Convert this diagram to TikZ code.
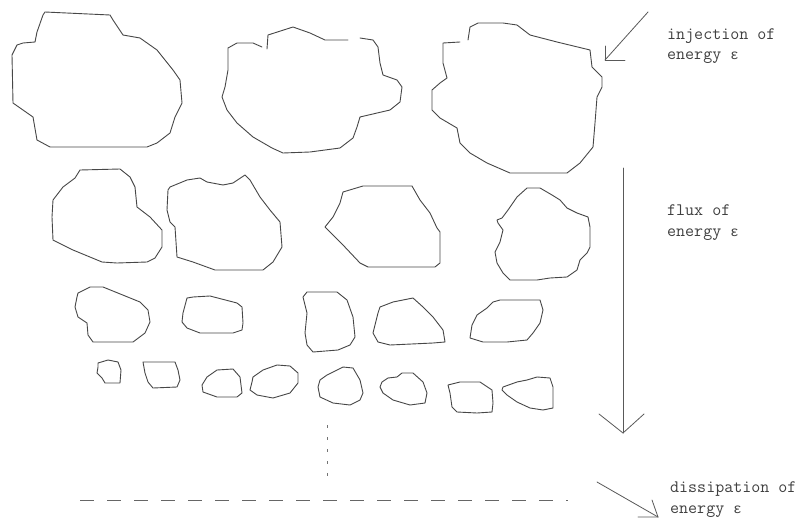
\documentclass[tikz,border=0pt]{standalone}
\usepackage{fontspec}
\newfontfamily\epsfont{Liberation Mono}
\begin{document}
\begin{tikzpicture}[x=1pt,y=-1pt,
  blob/.style={draw=black!72,line width=0.9pt,line join=round,line cap=round},
  arrowline/.style={draw=black!65,line width=0.8pt,line cap=round},
  lbl/.style={anchor=base west,inner sep=0pt,font=\ttfamily\fontsize{17.5}{17.5}\selectfont,text=black!75}]
\fill[white] (0,0) rectangle (805,530);
\useasboundingbox (0,0) rectangle (805,530);

% ---- row 1 ----
\draw[blob] (45,12) -- (110,15) -- (113,20) -- (123,35) -- (140,38) -- (157,50) -- (173,70) -- (180,80) -- (182,103) -- (175,117) -- (170,133) -- (157,143) -- (147,147) -- (50,147) -- (37,140) -- (33,117) -- (23,110) -- (13,103) -- (12,55) -- (17,45) -- (23,43) -- (35,42) -- (37,32) -- (43,15) -- cycle;

\draw[blob] (267,49) -- (268,35) -- (293,27) -- (310,33) -- (325,40) -- (348,40);
\draw[blob] (360,38) -- (373,40) -- (378,47) -- (380,63) -- (383,75) -- (397,80) -- (402,87) -- (400,102) -- (390,110) -- (360,117) -- (357,127) -- (353,138) -- (340,148) -- (310,152) -- (283,153) -- (272,148) -- (253,137) -- (237,123) -- (227,110) -- (222,97) -- (225,87) -- (228,70) -- (228,48) -- (237,43) -- (253,43) -- (262,47);

\draw[blob] (468,40) -- (470,27) -- (478,23) -- (503,23) -- (517,25) -- (530,35) -- (557,42) -- (590,50) -- (592,67) -- (602,77) -- (602,87) -- (597,97) -- (595,123) -- (593,147) -- (580,163) -- (567,173) -- (510,173) -- (487,163) -- (470,153) -- (460,143) -- (457,128) -- (440,118) -- (432,110) -- (432,90) -- (440,83) -- (447,78) -- (443,63) -- (443,43) -- (460,42);

% ---- row 2 ----
\draw[blob] (80,170) -- (120,169) -- (130,177) -- (135,187) -- (137,207) -- (150,217) -- (162,230) -- (162,247) -- (155,258) -- (147,262) -- (117,263) -- (102,262) -- (73,250) -- (53,240) -- (52,217) -- (53,200) -- (63,187) -- (75,178) -- cycle;

\draw[blob] (170,187) -- (187,180) -- (200,178) -- (207,182) -- (223,185) -- (233,183) -- (245,175) -- (250,180) -- (260,197) -- (270,210) -- (280,222) -- (282,247) -- (273,262) -- (263,270) -- (215,270) -- (193,262) -- (177,257) -- (175,227) -- (170,222) -- (167,210) -- (168,190) -- cycle;

\draw[blob] (343,192) -- (363,186) -- (412,186) -- (420,200) -- (430,213) -- (437,228) -- (440,232) -- (440,263) -- (435,267) -- (368,267) -- (360,263) -- (343,245) -- (325,227) -- (333,217) -- (340,203) -- cycle;

\draw[blob] (497,220) -- (502,218) -- (508,210) -- (517,197) -- (527,188) -- (540,188) -- (552,195) -- (560,200) -- (567,208) -- (577,213) -- (588,217) -- (590,227) -- (590,247) -- (587,253) -- (580,260) -- (577,270) -- (567,277) -- (550,278) -- (537,280) -- (510,280) -- (503,273) -- (497,263) -- (495,252) -- (500,242) -- (503,230) -- (498,223) -- cycle;

% ---- row 3 ----
\draw[blob] (78,293) -- (90,287) -- (103,287) -- (140,302) -- (148,310) -- (150,322) -- (145,333) -- (133,342) -- (93,342) -- (88,335) -- (87,323) -- (78,317) -- (75,307) -- (77,297) -- cycle;
\draw[blob] (187,298) -- (193,297) -- (210,296) -- (237,303) -- (242,307) -- (243,323) -- (242,330) -- (233,333) -- (217,333) -- (200,333) -- (187,328) -- (182,322) -- (183,313) -- cycle;
\draw[blob] (307,292) -- (337,292) -- (347,300) -- (353,317) -- (355,337) -- (350,345) -- (338,350) -- (313,352) -- (307,345) -- (305,333) -- (307,313) -- (303,297) -- cycle;
\draw[blob] (380,307) -- (393,302) -- (413,298) -- (423,307) -- (433,317) -- (443,330) -- (445,342) -- (433,343) -- (390,345) -- (378,342) -- (373,333) -- (375,325) -- (378,313) -- cycle;
\draw[blob] (493,302) -- (500,300) -- (540,300) -- (543,310) -- (540,323) -- (533,333) -- (527,340) -- (507,342) -- (483,342) -- (470,338) -- (472,325) -- (477,315) -- (487,308) -- cycle;

% ---- row 4 ----
\draw[blob] (98,363) -- (108,360) -- (118,362) -- (121,370) -- (120,383) -- (105,383) -- (102,378) -- (97,373) -- (98,367) -- cycle;
\draw[blob] (143,362) -- (175,362) -- (178,370) -- (180,380) -- (177,387) -- (153,388) -- (148,382) -- (145,373) -- cycle;
\draw[blob] (207,377) -- (217,370) -- (233,369) -- (240,377) -- (242,393) -- (237,397) -- (217,397) -- (203,392) -- (202,385) -- cycle;
\draw[blob] (253,377) -- (263,370) -- (277,365) -- (290,366) -- (298,373) -- (298,383) -- (290,393) -- (273,398) -- (257,395) -- (250,390) -- (252,382) -- cycle;
\draw[blob] (320,380) -- (327,375) -- (343,367) -- (353,368) -- (360,380) -- (363,393) -- (360,400) -- (350,405) -- (333,403) -- (320,397) -- (318,387) -- cycle;
\draw[blob] (382,382) -- (388,378) -- (397,377) -- (402,373) -- (413,373) -- (423,382) -- (427,393) -- (425,403) -- (410,405) -- (393,400) -- (383,393) -- (380,387) -- cycle;
\draw[blob] (448,385) -- (460,382) -- (480,382) -- (492,390) -- (493,403) -- (492,412) -- (477,413) -- (457,412) -- (452,407) -- (450,393) -- cycle;
\draw[blob] (503,387) -- (517,382) -- (527,380) -- (537,377) -- (550,378) -- (553,387) -- (553,408) -- (543,410) -- (530,408) -- (517,402) -- (507,395) -- (502,390) -- cycle;

% ---- dissipation scale lines ----
\coordinate (vtop) at (327,425);
\coordinate (vbot) at (327,478);
\draw[draw=black!55,line width=0.8pt,dash pattern=on 3pt off 9pt] (vtop) -- (vbot);
\coordinate (hl) at (80,500);
\coordinate (hr) at (568,500);
\draw[draw=black!60,line width=0.8pt,dash pattern=on 14pt off 13pt] (hl) -- (hr);

% ---- arrows ----
\coordinate (injS) at (648,12);
\coordinate (injT) at (605,60);
\draw[arrowline] (injS) -- (injT);
\draw[arrowline] (605,46) -- (injT) -- (625,60);

\coordinate (fluxS) at (623,168);
\coordinate (fluxT) at (623,433);
\draw[arrowline] (fluxS) -- (fluxT);
\draw[arrowline] (599,414) -- (fluxT) -- (644,414);

\coordinate (disS) at (597,482);
\coordinate (disT) at (658,517);
\draw[arrowline] (disS) -- (disT);
\draw[arrowline] (638,517) -- (disT) -- (652,500);

% ---- labels ----
\node[lbl] (inj1) at (667,39) {injection of};
\node[lbl] (inj2) at (667,59) {energy {\epsfont\fontsize{14}{14}\selectfont ε}};
\node[lbl] (flx1) at (667,215) {flux of};
\node[lbl] (flx2) at (667,236) {energy {\epsfont\fontsize{14}{14}\selectfont ε}};
\node[lbl] (dis1) at (670,492) {dissipation of};
\node[lbl] (dis2) at (670,513) {energy {\epsfont\fontsize{14}{14}\selectfont ε}};
\end{tikzpicture}
\end{document}
